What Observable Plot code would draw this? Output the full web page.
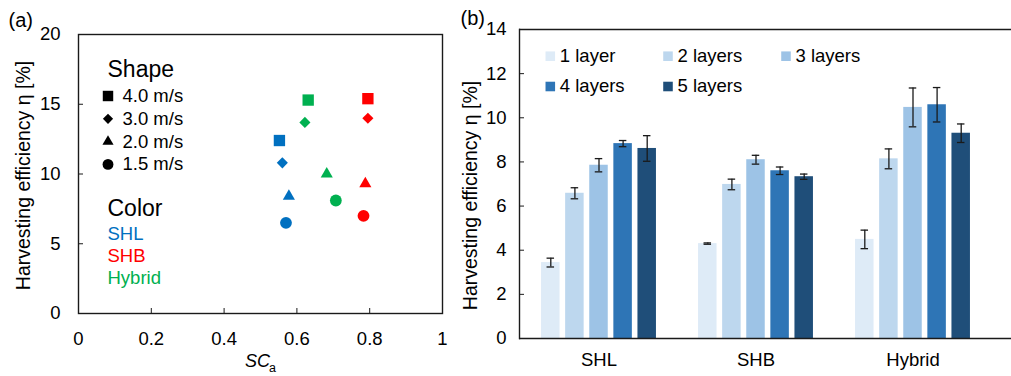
<!DOCTYPE html>
<html><head><meta charset="utf-8">
<script src="https://cdn.jsdelivr.net/npm/d3@7"></script>
<script src="https://cdn.jsdelivr.net/npm/@observablehq/plot@0.6"></script>
<style>
body{margin:0;background:#fff;}
#wrap{position:relative;width:1011px;height:376px;overflow:hidden;font-family:"Liberation Sans",Arial,sans-serif;}
#a,#b{position:absolute;top:0;}
#a{left:0}
#b{left:460px}
svg{overflow:visible}
</style></head><body><div id="wrap"><div id="a"></div><div id="b"></div></div>
<script>
// ---------- Panel (a) data ----------
const materials = ["SHL", "SHB", "Hybrid"];
const materialColors = ["#0070C0", "#FF0000", "#00B050"];
const speeds = ["4.0 m/s", "3.0 m/s", "2.0 m/s", "1.5 m/s"];
const speedSymbols = ["square", "diamond2", "triangle", "circle"];
const scaSHL = [0.552, 0.560, 0.578, 0.570];
const etaSHL = [12.4, 10.8, 8.4, 6.5];
const scaSHB = [0.795, 0.795, 0.788, 0.783];
const etaSHB = [15.4, 14.0, 9.3, 7.0];
const scaHybrid = [0.631, 0.622, 0.682, 0.707];
const etaHybrid = [15.3, 13.7, 10.0, 8.1];
const xTicksA = [0, 0.2, 0.4, 0.6, 0.8, 1];
const yTicksA = [0, 5, 10, 15, 20];

// ---------- Panel (b) data ----------
const groups = ["SHL", "SHB", "Hybrid"];
const layers = ["1 layer", "2 layers", "3 layers", "4 layers", "5 layers"];
const layerColors = ["#DEEBF7", "#BDD7EE", "#9DC3E6", "#2E75B6", "#1F4E79"];
const effSHL = [3.44, 6.58, 7.85, 8.83, 8.61];
const errSHL = [0.20, 0.25, 0.30, 0.14, 0.58];
const effSHB = [4.30, 6.98, 8.10, 7.60, 7.33];
const errSHB = [0.03, 0.24, 0.20, 0.17, 0.12];
const effHybrid = [4.49, 8.14, 10.47, 10.59, 9.30];
const errHybrid = [0.42, 0.45, 0.88, 0.78, 0.42];
const yTicksB = [0, 2, 4, 6, 8, 10, 12, 14];

const FONT = "Liberation Sans, Arial, sans-serif";
const INK = "#1a1a1a";

// ---------- build panel (a) ----------
const scaBy = {SHL: scaSHL, SHB: scaSHB, Hybrid: scaHybrid};
const etaBy = {SHL: etaSHL, SHB: etaSHB, Hybrid: etaHybrid};
const symbolRadius = {"square": 6.4, "diamond2": 5.0, "triangle": 4.5, "circle": 5.9};
const points = materials.flatMap(m => speeds.map((s, i) => ({
  material: m, speed: s, sca: scaBy[m][i], eta: etaBy[m][i], r: symbolRadius[speedSymbols[i]]
})));

const legendA = [
  Plot.text(["Shape"], {text: d => d, frameAnchor: "top-left", dx: 29, dy: 35.5, textAnchor: "start", lineAnchor: "middle", fontSize: 23, fill: "black"}),
  ...speeds.map((s, i) => Plot.dot([s], {frameAnchor: "top-left", dx: 29.5, dy: 61.5 + i * 22.8, symbol: speedSymbols[i], r: symbolRadius[speedSymbols[i]] * 0.92, fill: "black", stroke: "none"})),
  ...speeds.map((s, i) => Plot.text([s], {text: d => d, frameAnchor: "top-left", dx: 44, dy: 61.5 + i * 22.8, textAnchor: "start", lineAnchor: "middle", fontSize: 18.5, fill: "black"})),
  Plot.text(["Color"], {text: d => d, frameAnchor: "top-left", dx: 29, dy: 174, textAnchor: "start", lineAnchor: "middle", fontSize: 23, fill: "black"}),
  ...materials.map((m, i) => Plot.text([m], {text: d => d, frameAnchor: "top-left", dx: 29, dy: 200 + i * 22, textAnchor: "start", lineAnchor: "middle", fontSize: 18.5, fill: materialColors[i]}))
];

const plotA = Plot.plot({
  width: 460, height: 376,
  marginLeft: 78, marginRight: 18, marginTop: 34, marginBottom: 63,
  style: {fontFamily: FONT, fontSize: "18.5px", color: "black", background: "white"},
  x: {domain: [0, 1], ticks: xTicksA},
  y: {domain: [0, 20], ticks: yTicksA},
  symbol: {domain: speeds, range: speedSymbols},
  color: {domain: materials, range: materialColors},
  r: {type: "identity"},
  marks: [
    Plot.frame({stroke: INK, strokeWidth: 1.4}),
    Plot.axisX({ticks: xTicksA, tickSize: -5, tickPadding: 23, tickFormat: d => String(d), stroke: INK, label: null, fontSize: 18.5}),
    Plot.axisY({ticks: yTicksA, tickSize: -5, tickPadding: 23, tickFormat: d => String(d), stroke: INK, label: null, fontSize: 18.5}),
    Plot.dot(points, {x: "sca", y: "eta", symbol: "speed", fill: "material", r: "r", stroke: "none"}),
    ...legendA,
    Plot.text(["Harvesting efficiency \u03B7 [%]"], {text: d => d, frameAnchor: "left", dx: -55, dy: 1.5, rotate: -90, textAnchor: "middle", lineAnchor: "middle", fontSize: 19.5, fill: "black"}),
    Plot.text(["SC"], {text: d => d, frameAnchor: "bottom", dx: -3, dy: 48, textAnchor: "middle", lineAnchor: "middle", fontSize: 18, fontStyle: "italic", fill: "black"}),
    Plot.text(["a"], {text: d => d, frameAnchor: "bottom", dx: 12, dy: 54, textAnchor: "middle", lineAnchor: "middle", fontSize: 12.5, fill: "black"}),
    Plot.text(["(a)"], {text: d => d, frameAnchor: "top-left", dx: -70, dy: -14, textAnchor: "start", lineAnchor: "middle", fontSize: 20, fill: "black"})
  ]
});
document.getElementById("a").append(plotA);

// ---------- build panel (b) ----------
const effBy = {SHL: effSHL, SHB: effSHB, Hybrid: effHybrid};
const errBy = {SHL: errSHL, SHB: errSHB, Hybrid: errHybrid};
const bars = groups.flatMap(g => layers.map((l, i) => ({group: g, layer: l, li: i, value: effBy[g][i], err: errBy[g][i]})));

const BAND = 157.5, BAR = 19, STEP = 24.1, CAP = 8;
const barMarks = layers.flatMap((l, li) => {
  const rows = bars.filter(d => d.layer === l);
  const dx = (li - 2) * STEP;
  return [
    Plot.barY(rows, {x: "group", y: "value", fill: layerColors[li], insetLeft: (BAND - BAR) / 2, insetRight: (BAND - BAR) / 2, dx}),
    Plot.ruleX(rows, {x: "group", y1: d => d.value - d.err, y2: d => d.value + d.err, dx, stroke: INK, strokeWidth: 1.3}),
    Plot.tickY(rows, {x: "group", y: d => d.value + d.err, dx, insetLeft: (BAND - CAP) / 2, insetRight: (BAND - CAP) / 2, stroke: INK, strokeWidth: 1.3}),
    Plot.tickY(rows, {x: "group", y: d => d.value - d.err, dx, insetLeft: (BAND - CAP) / 2, insetRight: (BAND - CAP) / 2, stroke: INK, strokeWidth: 1.3})
  ];
});

const legCols = [30.8, 148.5, 266.5];
const legRows = [26.7, 57];
const legendB = layers.flatMap((l, i) => {
  const c = i < 3 ? i : i - 3, r = i < 3 ? 0 : 1;
  return [
    Plot.dot([l], {frameAnchor: "top-left", dx: legCols[c], dy: legRows[r], symbol: "square", r: 5.4, fill: layerColors[i], stroke: "none"}),
    Plot.text([l], {text: d => d, frameAnchor: "top-left", dx: legCols[c] + 9.5, dy: legRows[r], textAnchor: "start", lineAnchor: "middle", fontSize: 18.5, fill: "black"})
  ];
});

const plotB = Plot.plot({
  width: 551, height: 376,
  marginLeft: 59, marginRight: 0, marginTop: 29, marginBottom: 38,
  style: {fontFamily: FONT, fontSize: "18.5px", color: "black", background: "transparent"},
  x: {domain: groups, range: [59, 59 + 3 * BAND], padding: 0},
  y: {domain: [0, 14], ticks: yTicksB},
  marks: [
    ...barMarks,
    Plot.ruleY([0, 14], {stroke: INK, strokeWidth: 1.4}),
    Plot.frame({anchor: "left", stroke: INK, strokeWidth: 1.4}),
    Plot.axisY({ticks: yTicksB, tickSize: -5, tickPadding: 18, tickFormat: d => String(d), stroke: INK, label: null, fontSize: 18.5}),
    Plot.axisX({tickSize: 0, tickPadding: 14, label: null, fontSize: 18.5}),
    ...legendB,
    Plot.text(["Harvesting efficiency \u03B7 [%]"], {text: d => d, frameAnchor: "left", dx: -49, dy: 11.5, rotate: -90, textAnchor: "middle", lineAnchor: "middle", fontSize: 19.5, fill: "black"}),
    Plot.text(["(b)"], {text: d => d, frameAnchor: "top-left", dx: -59, dy: -10.5, textAnchor: "start", lineAnchor: "middle", fontSize: 20, fill: "black"})
  ]
});
document.getElementById("b").append(plotB);
</script></body></html>
